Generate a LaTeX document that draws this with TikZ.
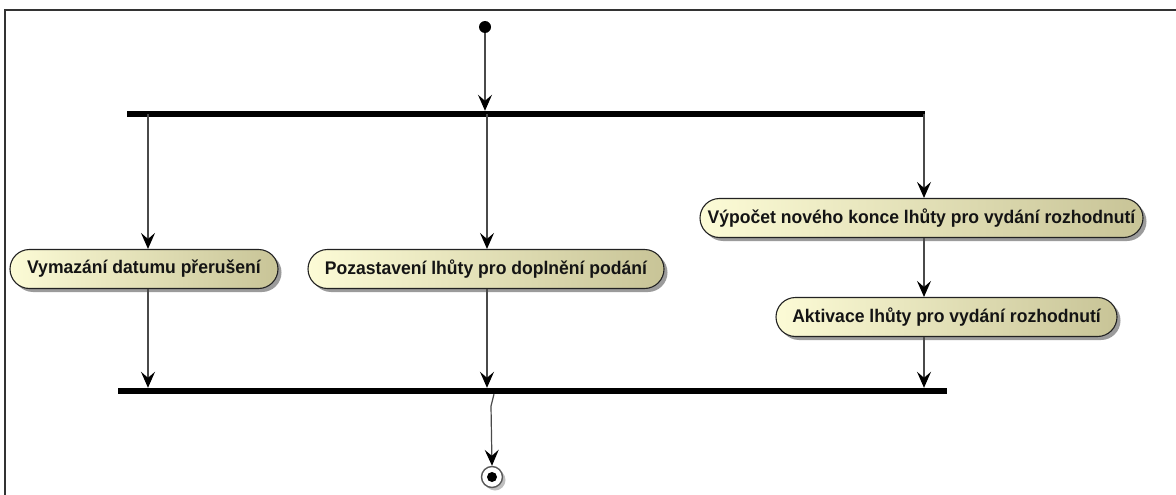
\documentclass[tikz,border=0pt]{standalone}
\usepackage{fontspec}
\setmainfont{Liberation Sans}
\newfontfamily\actfont[FakeStretch=0.96]{Liberation Sans}
\usetikzlibrary{arrows.meta,shadows,calc}
\definecolor{framec}{HTML}{333333}
\definecolor{linec}{HTML}{4A4A4A}
\definecolor{actl}{HTML}{FCFBD6}
\definecolor{actr}{HTML}{C8C497}
\definecolor{actb}{HTML}{222222}
\definecolor{txtc}{HTML}{141414}
\tikzset{
  action/.style={draw=actb, line width=1.1pt, rounded corners=19.5pt,
    left color=actl, right color=actr, minimum height=39pt, inner sep=0pt,
    text=txtc, font=\actfont\bfseries\fontsize{18.3}{21}\selectfont,
    drop shadow={shadow xshift=3.5pt, shadow yshift=-3.5pt, fill=black!60, opacity=0.65}},
  syncbar/.style={fill=black, draw=none, inner sep=0pt, minimum height=6pt},
  flow/.style={draw=linec, line width=1.2pt,
    -{Stealth[length=16pt, width=14pt, inset=6pt, fill=black, color=black]}},
}
\begin{document}
\begin{tikzpicture}[x=1pt, y=-1pt]
\useasboundingbox (0,0) rectangle (1176,495);
\fill[white] (0,0) rectangle (1176,495);
% diagram frame
\draw[framec, line width=1.6pt] (5,495) -- (5,10) -- (1176,10);

% start and end
\node[circle, fill=black, minimum size=12pt, inner sep=0pt] (start) at (485,27) {};
\node[circle, draw=gray!70!black, line width=1.4pt, fill=white, minimum size=21pt, inner sep=0pt,
      drop shadow={shadow xshift=3pt, shadow yshift=-3pt, fill=black!50, opacity=0.5}] (stop) at (492,477) {};
\node[circle, fill=black, minimum size=10pt, inner sep=0pt] at (stop) {};

% fork and join bars
\node[syncbar, minimum width=798pt] (fork) at (526,114) {};
\node[syncbar, minimum width=829pt] (join) at (532.5,391) {};

% actions
\node[action, minimum width=268pt] (vymaz) at (144,269) {Vymazání datumu přerušení};
\node[action, minimum width=356pt] (pozast) at (486,269) {Pozastavení lhůty pro doplnění podání};
\node[action, minimum width=443pt] (vypocet) at (921.5,218) {Výpočet nového konce lhůty pro vydání rozhodnutí};
\node[action, minimum width=341pt] (aktiv) at (946.5,317) {Aktivace lhůty pro vydání rozhodnutí};

% branch points on the bars
\coordinate (f1) at (148,114);
\coordinate (f2) at (487,114);
\coordinate (f3) at (924,114);
\coordinate (j1) at (148,391);
\coordinate (j2) at (487,391);
\coordinate (j3) at (924,391);

% flows
\draw[flow] (start) -- (start |- fork.north);
\draw[flow] (f1) -- (f1 |- vymaz.north);
\draw[flow] (f2) -- (f2 |- pozast.north);
\draw[flow] (f3) -- (f3 |- vypocet.north);
\draw[flow] (f3 |- vypocet.south) -- (f3 |- aktiv.north);
\draw[flow] (j1 |- vymaz.south) -- (j1 |- join.north);
\draw[flow] (j2 |- pozast.south) -- (j2 |- join.north);
\draw[flow] (j3 |- aktiv.south) -- (j3 |- join.north);
\draw[flow] (join.south -| 494,0) -- (491,406) -- (stop.north);
\end{tikzpicture}
\end{document}
